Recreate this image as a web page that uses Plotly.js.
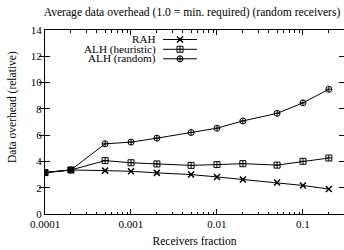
<!DOCTYPE html>
<html><head><meta charset="utf-8">
<script src="https://cdn.plot.ly/plotly-3.0.1.min.js"></script>
<style>html,body{margin:0;padding:0;background:#fff}#c{width:344px;height:250px}</style>
</head><body><div id="c"></div>
<script>
const fractions = [0.0001, 0.0002, 0.0005, 0.001, 0.002, 0.005, 0.01, 0.02, 0.05, 0.1, 0.2];
const rah       = [3.15, 3.35, 3.3, 3.25, 3.13, 3.0, 2.82, 2.63, 2.4, 2.17, 1.9];
const alhHeur   = [3.15, 3.35, 4.06, 3.9, 3.81, 3.7, 3.76, 3.83, 3.72, 4.01, 4.26];
const alhRand   = [3.15, 3.35, 5.34, 5.47, 5.77, 6.2, 6.53, 7.08, 7.66, 8.46, 9.49];
const seriesNames = ["RAH", "ALH (heuristic)", "ALH (random)"];
const symbols = ["x-thin-open", "square-cross-open", "circle-cross-open"];
const majorTicks = [0.0001, 0.001, 0.01, 0.1];
const majorText = ["0.0001", "0.001", "0.01", "0.1"];
const yTicks = [0, 2, 4, 6, 8, 10, 12, 14];

const minorTicks = [];
[0.0001, 0.001, 0.01, 0.1].forEach(d => { for (let k = 2; k <= 9; k++) { if (d*k <= 0.3) minorTicks.push(+(d*k).toPrecision(3)); } });

const F = "Liberation Serif";
const FS = 11.5;
const L = 45, T = 30, W = 299, H = 184;
const px = x => (x - L) / W, py = y => (214 - y) / H;

const data = [rah, alhHeur, alhRand].map((v, i) => ({
  x: fractions, y: v, type: "scatter", mode: "lines+markers", showlegend: false,
  line: {color: "#000", width: 1},
  marker: {symbol: symbols[i], size: 6, color: "#000", line: {color: "#000", width: i === 0 ? 1.5 : 1}}
}));

const legY = [39.5, 49.3, 58.8];
const shapes = [], annotations = [];
seriesNames.forEach((n, i) => {
  annotations.push({text: n, xref: "paper", yref: "paper", x: px(158), y: py(legY[i]), xanchor: "right", yanchor: "middle", showarrow: false, font: {family: F, size: 11.2, color: "#000"}});
  shapes.push({type: "line", xref: "paper", yref: "paper", x0: px(163), x1: px(197), y0: py(legY[i]), y1: py(legY[i]), line: {color: "#000", width: 1}});
  data.push({x: [px(180)], y: [py(legY[i])], xaxis: "x3", yaxis: "y3", type: "scatter", mode: "markers", showlegend: false, hoverinfo: "skip",
    marker: {symbol: symbols[i], size: 6, color: "#000", line: {color: "#000", width: i === 0 ? 1.5 : 1}}});
});
annotations.push({text: "Data overhead (relative)", xref: "paper", yref: "paper", x: px(12), y: py(107), textangle: -90, xanchor: "center", yanchor: "middle", showarrow: false, font: {family: F, size: FS, color: "#000"}});

const xr = [Math.log10(0.0001), Math.log10(0.3)];
const layout = {
  width: 344, height: 250, margin: {l: L, r: 0, t: T, b: 36},
  paper_bgcolor: "#fff", plot_bgcolor: "#fff",
  font: {family: F, size: FS, color: "#000"},
  title: {text: "Average data overhead (1.0 = min. required) (random receivers)", font: {family: F, size: 11.6, color: "#000"},
          xref: "container", x: 192/344, xanchor: "center", yref: "container", y: 1 - 12/250, yanchor: "middle"},
  xaxis: {type: "log", range: xr, tickvals: majorTicks, ticktext: majorText, ticks: "inside", ticklen: 5, tickcolor: "#000",
          showline: true, linecolor: "#000", linewidth: 1, mirror: "allticks", showgrid: false, zeroline: false,
          tickfont: {family: F, size: 11, color: "#000"},
          title: {text: "Receivers fraction", font: {family: F, size: FS, color: "#000"}, standoff: 7}},
  xaxis2: {type: "log", range: xr, overlaying: "x", anchor: "y", tickvals: minorTicks, ticks: "inside", ticklen: 2.5, tickcolor: "#000",
           showticklabels: false, mirror: "ticks", showgrid: false, zeroline: false, showline: false},
  xaxis3: {range: [0, 1], overlaying: "x", anchor: "y3", visible: false, fixedrange: true},
  yaxis3: {range: [0, 1], overlaying: "y", anchor: "x3", visible: false, fixedrange: true},
  yaxis: {range: [0, 14], tickvals: yTicks, ticks: "inside", ticklen: 5, tickcolor: "#000",
          showline: true, linecolor: "#000", linewidth: 1, mirror: "allticks", showgrid: false, zeroline: false,
          tickfont: {family: F, size: 11, color: "#000"}},
  shapes, annotations, showlegend: false
};
data.push({x: [0.001], y: [0], xaxis: "x2", yaxis: "y", type: "scatter", mode: "markers", marker: {opacity: 0}, showlegend: false, hoverinfo: "skip"});
Plotly.newPlot("c", data, layout, {staticPlot: true, displayModeBar: false});
</script></body></html>
